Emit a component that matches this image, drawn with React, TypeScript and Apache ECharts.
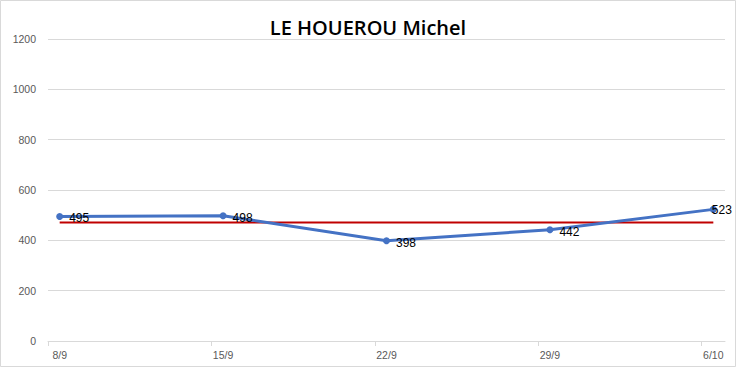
import React, { useEffect, useRef } from "react";
import * as echarts from "echarts";

const title = "LE HOUEROU Michel";
const categories = ["8/9", "15/9", "22/9", "29/9", "6/10"];
const dayOffsets = [0, 7, 14, 21, 28];
const scores = [495, 498, 398, 442, 523];
const average = [471.2, 471.2, 471.2, 471.2, 471.2];
const yTicks = [0, 200, 400, 600, 800, 1000, 1200];

export default function App() {
  const ref = useRef<HTMLDivElement>(null);
  useEffect(() => {
    document.body.style.margin = "0";
    const chart = echarts.init(ref.current!, null, { renderer: "svg" });
    const labelMap: Record<number, string> = {};
    dayOffsets.forEach((d, i) => (labelMap[d] = categories[i]));
    chart.setOption({
      animation: false,
      backgroundColor: "#ffffff",
      title: {
        text: title,
        left: "center",
        top: 12,
        textStyle: {
          fontFamily: "Open Sans",
          fontSize: 20,
          fontWeight: 600,
          color: "#000000",
        },
      },
      graphic: [
        {
          type: "rect",
          shape: { x: 0.5, y: 0.5, width: 735, height: 366 },
          style: { fill: "none", stroke: "#d9d9d9", lineWidth: 1 },
          silent: true,
        },
      ],
      grid: { left: 48, right: 11, top: 39, bottom: 26 },
      xAxis: {
        type: "value",
        min: -0.5,
        max: 28.5,
        splitLine: { show: false },
        axisLine: { show: true, lineStyle: { color: "#d9d9d9" } },
        axisTick: {
          show: true,
          customValues: [-0.5, 6.5, 13.5, 20.5, 27.5],
          length: 5,
          lineStyle: { color: "#d9d9d9" },
        },
        axisLabel: {
          customValues: dayOffsets,
          formatter: (v: number) => labelMap[Math.round(v)] ?? "",
          color: "#595959",
          fontFamily: "Liberation Sans",
          fontSize: 10.5,
          margin: 8,
        },
      },
      yAxis: {
        type: "value",
        min: 0,
        max: 1200,
        interval: 200,
        axisLine: { show: false },
        axisTick: { show: false },
        splitLine: { lineStyle: { color: "#d9d9d9", width: 1 } },
        axisLabel: {
          color: "#595959",
          fontFamily: "Liberation Sans",
          fontSize: 10.5,
          margin: 12,
          formatter: (v: number) => (yTicks.includes(v) ? String(v) : ""),
        },
      },
      series: [
        {
          type: "line",
          data: dayOffsets.map((d, i) => [d, average[i]]),
          showSymbol: false,
          symbol: "none",
          lineStyle: { color: "#c00000", width: 2 },
          z: 2,
        },
        {
          type: "line",
          data: dayOffsets.map((d, i) => {
            const item: any = { value: [d, scores[i]] };
            if (i === dayOffsets.length - 1) {
              item.label = { offset: [-11, 1] };
            }
            return item;
          }),
          symbol: "circle",
          symbolSize: 7,
          itemStyle: { color: "#4472c4" },
          lineStyle: { color: "#4472c4", width: 3 },
          label: {
            show: true,
            position: "right",
            distance: 6,
            offset: [0, 2],
            color: "#000000",
            fontFamily: "Liberation Sans",
            fontSize: 12,
            formatter: (p: any) => String(p.value[1]),
          },
          z: 3,
        },
      ],
    });
    return () => chart.dispose();
  }, []);
  return <div ref={ref} style={{ width: 736, height: 367 }} />;
}
